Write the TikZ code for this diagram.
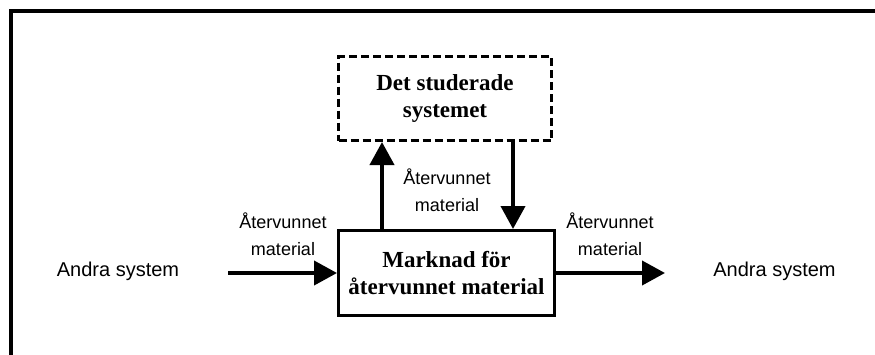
\documentclass[tikz,border=0pt]{standalone}
\usepackage{fontspec}
\setmainfont{Liberation Serif}
\newfontfamily\labelfont{Liberation Sans}
\usetikzlibrary{arrows.meta}
\begin{document}
\begin{tikzpicture}[x=1pt,y=-1pt,
  flow/.style={line width=4pt,-{Triangle[length=23pt,width=24pt]}},
  sysbox/.style={draw,line width=3pt,align=center,inner sep=0pt,
    font=\bfseries\fontsize{23}{27}\selectfont},
  tag/.style={align=center,inner sep=0pt,font=\labelfont\fontsize{18}{27}\selectfont},
  ext/.style={inner sep=0pt,font=\labelfont\fontsize{20}{24}\selectfont}]
\useasboundingbox (0,0) rectangle (875,354);
% outer frame (top and left sides)
\draw[line width=4pt] (11,360) -- (11,11) -- (880,11);

% the two system boxes
\node[sysbox,dash pattern=on 8pt off 4pt,minimum width=213pt,minimum height=84pt]
  (studied) at (445,98.5) {Det studerade\\systemet};
\node[sysbox,minimum width=216pt,minimum height=85pt]
  (market) at (446.5,273) {Marknad för\\återvunnet material};

% positions of the vertical flows and the free ends
\coordinate (upx) at (382,0);
\coordinate (dnx) at (513,0);
\coordinate (inStart) at (228,273);
\coordinate (outEnd) at (665,273);

\draw[flow] (market.north -| upx) -- (studied.south -| upx);
\draw[flow] (studied.south -| dnx) -- (market.north -| dnx);
\draw[flow] (inStart) -- (market.west);
\draw[flow] (market.east) -- (outEnd);

% labels
\node[tag] (lblUp) at (447,190) {Återvunnet\\material};
\node[tag] (lblIn) at (283,234.5) {Återvunnet\\material};
\node[tag] (lblOut) at (610,234.5) {Återvunnet\\material};
\node[ext] (srcSys) at (118,271) {Andra system};
\node[ext] (dstSys) at (774.5,271) {Andra system};
\end{tikzpicture}
\end{document}
